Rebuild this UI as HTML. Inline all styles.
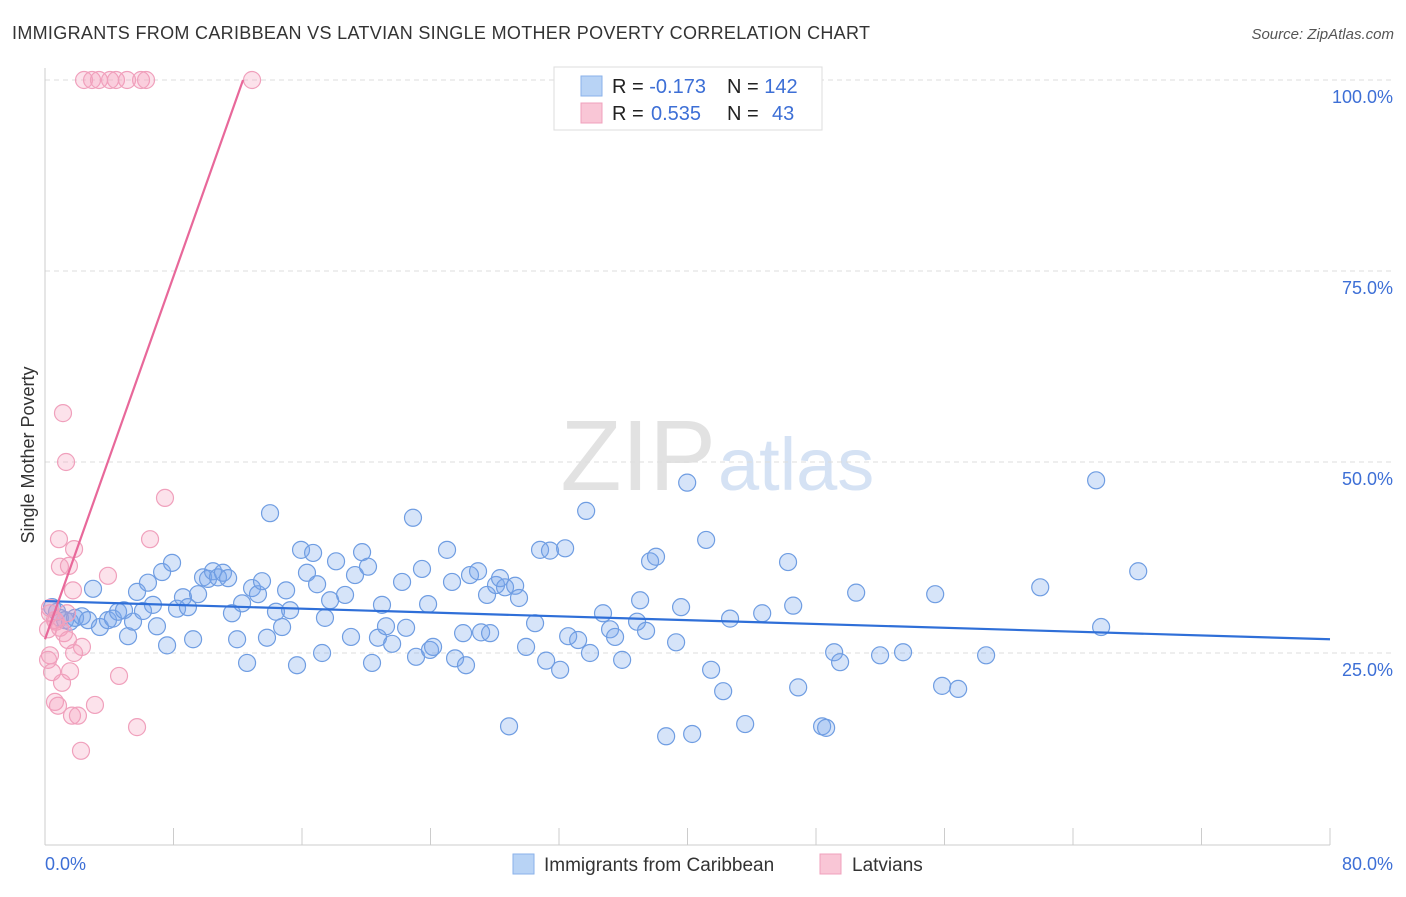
<!DOCTYPE html>
<html><head><meta charset="utf-8"><style>
body{margin:0;background:#fff;font-family:"Liberation Sans",sans-serif;}
svg text{font-family:"Liberation Sans",sans-serif;}
</style></head><body>
<svg id="chart" width="1406" height="892">
<text x="12" y="39" font-size="18" fill="#333" textLength="858">IMMIGRANTS FROM CARIBBEAN VS LATVIAN SINGLE MOTHER POVERTY CORRELATION CHART</text>
<text x="1394" y="39" font-size="15" fill="#555" font-style="italic" text-anchor="end">Source: ZipAtlas.com</text>
<text x="716" y="490" font-size="100" fill="#e2e2e2" font-family="Liberation Serif" text-anchor="end">ZIP</text>
<text x="718" y="490" font-size="74" fill="#d5e2f4">atlas</text>
<text transform="translate(34,455) rotate(-90)" font-size="18" fill="#333" text-anchor="middle">Single Mother Poverty</text>
<g id="grid"></g><g id="pts"></g><g id="lines"></g>
<g>
<rect x="554" y="67" width="268" height="63" fill="#fff" stroke="#ddd"/>
<rect x="581" y="76" width="21" height="20" fill="#b8d3f5" stroke="#8ab2ea"/>
<rect x="581" y="103" width="21" height="20" fill="#f9c6d6" stroke="#f0a0bc"/>
<text x="612" y="93" font-size="20" fill="#222">R = <tspan fill="#3d6fd6">-0.173</tspan></text>
<text x="727" y="93" font-size="20" fill="#222">N = <tspan fill="#3d6fd6">142</tspan></text>
<text x="612" y="120" font-size="20" fill="#222">R = <tspan fill="#3d6fd6" x="651">0.535</tspan></text>
<text x="727" y="120" font-size="20" fill="#222">N = <tspan fill="#3d6fd6" x="772">43</tspan></text>
</g>
<g>
<rect x="513" y="854" width="21" height="20" fill="#b8d3f5" stroke="#8ab2ea"/>
<text x="544" y="871" font-size="19" fill="#333">Immigrants from Caribbean</text>
<rect x="820" y="854" width="21" height="20" fill="#f9c6d6" stroke="#f0a0bc"/>
<text x="852" y="871" font-size="19" fill="#333">Latvians</text>
</g>
</svg>
<script>
const yTicks=[25,50,75,100];
const yTickLabels=["25.0%","50.0%","75.0%","100.0%"];
const xTickLabels=["0.0%","80.0%"];
const blueX=[0.44,0.75,0.93,1.25,1.56,1.87,2.30,2.68,2.99,3.42,3.92,4.23,4.55,4.92,5.17,5.48,5.73,6.10,6.41,6.72,6.97,7.29,7.60,7.91,8.22,8.59,8.90,9.22,9.53,9.84,10.15,10.46,10.77,11.08,11.40,11.64,11.96,12.27,12.58,12.89,13.26,13.51,13.82,14.01,14.38,14.76,15.01,15.26,15.69,15.94,16.31,16.69,16.94,17.25,17.43,17.75,18.12,18.68,19.05,19.30,19.74,20.11,20.36,20.73,20.98,21.23,21.61,22.23,22.48,22.91,23.10,23.47,23.85,23.97,24.16,25.03,25.34,25.53,26.03,26.21,26.46,26.96,27.15,27.52,27.71,28.08,28.33,28.64,28.89,29.27,29.51,29.95,30.51,30.82,31.20,31.44,32.07,32.38,32.57,33.19,33.69,33.93,34.74,35.18,35.49,35.93,36.86,37.05,37.42,37.67,38.04,38.67,39.29,39.60,39.98,40.29,41.16,41.47,42.22,42.65,43.59,44.65,46.26,46.58,46.89,48.38,48.63,49.13,49.50,50.50,51.99,53.42,55.42,55.85,56.85,58.59,61.96,65.44,65.75,68.06];
const blueY=[31.0,30.4,29.6,29.3,29.1,29.6,29.8,29.3,33.4,28.4,29.3,29.5,30.4,30.6,27.2,29.1,33.0,30.5,34.2,31.3,28.5,35.6,26.0,36.8,30.8,32.3,31.0,26.8,32.7,34.9,34.7,35.7,34.9,35.5,34.8,30.2,26.8,31.5,23.7,33.5,32.7,34.4,27.0,43.3,30.4,28.4,33.2,30.6,23.4,38.5,35.5,38.1,34.0,25.0,29.6,31.9,37.0,32.6,27.1,35.2,38.2,36.3,23.7,27.0,31.3,28.5,26.2,34.3,28.3,42.7,24.5,36.0,31.4,25.4,25.8,38.5,34.3,24.3,27.6,23.4,35.2,35.7,27.7,32.6,27.6,33.9,34.8,33.6,15.4,33.8,32.2,25.8,28.9,38.5,24.0,38.4,22.8,38.7,27.2,26.7,43.6,25.0,30.2,28.1,27.1,24.1,29.1,31.9,27.9,37.0,37.6,14.1,26.4,31.0,47.3,14.4,39.8,22.8,20.0,29.5,15.7,30.2,36.9,31.2,20.5,15.4,15.2,25.1,23.8,32.9,24.7,25.1,32.7,20.7,20.3,24.7,33.6,47.6,28.4,35.7];
const pinkX=[2.43,2.93,3.36,4.05,4.42,5.11,5.98,6.29,12.89,1.12,1.31,7.47,6.54,0.87,1.81,0.93,1.49,3.92,1.74,0.31,0.62,0.93,1.18,1.43,2.3,0.31,0.19,1.81,0.44,1.56,1.06,4.61,0.62,0.81,3.11,1.68,2.05,5.73,2.24,0.31,0.68,1.37,0.19];
const pinkY=[100,100,100,100,100,100,100,100,100,56.4,50,45.3,39.9,39.9,38.6,36.3,36.4,35.1,33.2,30.9,29.3,28.3,27.6,26.7,25.8,24.7,24.1,25,22.5,22.6,21.1,22,18.6,18.1,18.2,16.8,16.8,15.3,12.2,30.2,29.1,30.2,28.1];
const trendBlue=[31.8,26.8];
const trendPink=[26.8,100];
const trendPinkXEnd=12.33;

const X0=45,X1=1330,YB=844,YT=80;
const sx=v=>X0+(v/80)*(X1-X0);
const sy=v=>YB-(v/100)*(YB-YT);
const NS="http://www.w3.org/2000/svg";
function mk(tag,attrs,parent){const e=document.createElementNS(NS,tag);for(const k in attrs)e.setAttribute(k,attrs[k]);parent.appendChild(e);return e;}
const grid=document.getElementById('grid');
yTicks.forEach((t,i)=>{
  const l=mk('line',{x1:X0,x2:1395,y1:sy(t),y2:sy(t),stroke:'#ddd','stroke-dasharray':'5,4'},grid);
  
  
  const tx=mk('text',{x:1393,y:sy(t)+23,'font-size':18,fill:'#3d6fd6','text-anchor':'end'},grid);
  tx.textContent=yTickLabels[i];
  
  
});
const ax=mk('line',{x1:X0,x2:X1,y1:845,y2:845,stroke:'#ccc'},grid);


const ay=mk('line',{x1:X0,x2:X0,y1:68,y2:845,stroke:'#ccc'},grid);


for(let i=0;i<=10;i++){
  const tk=mk('line',{x1:sx(i*8),x2:sx(i*8),y1:828,y2:845,stroke:'#ccc'},grid);
  
  
}
const xl0=mk('text',{x:45,y:870,'font-size':18,fill:'#3d6fd6'},grid);xl0.textContent=xTickLabels[0];


const xl1=mk('text',{x:1393,y:870,'font-size':18,fill:'#3d6fd6','text-anchor':'end'},grid);xl1.textContent=xTickLabels[1];


const pts=document.getElementById('pts');
blueX.forEach((x,i)=>{
  const c=mk('circle',{cx:sx(x),cy:sy(blueY[i]),r:8.5,fill:'rgba(120,165,235,0.3)',stroke:'#6f9de2','stroke-width':1.2},pts);
  
  
});
pinkX.forEach((x,i)=>{
  const c=mk('circle',{cx:sx(x),cy:sy(pinkY[i]),r:8.5,fill:'rgba(245,160,190,0.3)',stroke:'#f0a0bc','stroke-width':1.2},pts);
  
  
});
const lines=document.getElementById('lines');
const lb=mk('line',{x1:sx(0),y1:sy(trendBlue[0]),x2:sx(80),y2:sy(trendBlue[1]),stroke:'#2f6fd8','stroke-width':2.2},lines);


const lp=mk('line',{x1:sx(0),y1:sy(trendPink[0]),x2:sx(trendPinkXEnd),y2:sy(trendPink[1]),stroke:'#e8689a','stroke-width':2.2},lines);


</script>
</body></html>
